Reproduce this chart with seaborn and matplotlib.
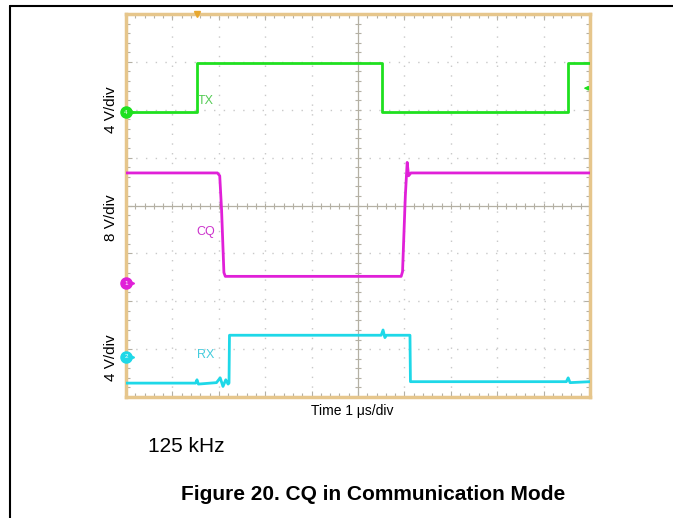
import numpy as np
import pandas as pd
import matplotlib
matplotlib.use("Agg")
import matplotlib.pyplot as plt
from matplotlib.lines import Line2D
import seaborn as sns

# time in divisions (1 us/div), level in vertical divisions from the bottom of the screen
tx_t = [0.0, 1.53, 1.53, 5.52, 5.52, 9.53, 9.53, 10.0]
tx_v = [5.95, 5.95, 6.97, 6.97, 5.95, 5.95, 6.97, 6.97]

cq_t = [0.0, 1.97, 2.02, 2.06, 2.11, 2.14, 5.93, 5.96, 6.02, 6.06, 6.09, 6.14, 10.0]
cq_v = [4.68, 4.68, 4.62, 3.9, 2.6, 2.52, 2.52, 2.62, 4.2, 4.9, 4.62, 4.68, 4.68]

rx_t = [0.0, 1.50, 1.53, 1.56, 1.95, 2.03, 2.09, 2.15, 2.20, 2.22, 2.23, 5.50, 5.54, 5.58, 5.61,
        6.12, 6.13, 9.49, 9.53, 9.57, 10.0]
rx_v = [0.29, 0.29, 0.36, 0.27, 0.30, 0.40, 0.22, 0.36, 0.27, 0.29, 1.29, 1.29, 1.40, 1.24, 1.29,
        1.29, 0.32, 0.32, 0.40, 0.30, 0.32]

signals = ["TX", "CQ", "RX"]
colors = ["#1fe01f", "#e020d8", "#1ed8e8"]
label_colors = ["#55cc55", "#cc33cc", "#44ccdd"]
label_x = [1.72, 1.72, 1.72]
label_y = [6.18, 3.44, 0.87]
ref_levels = [5.95, 2.38, 0.84]
ref_ids = ["4", "1", "2"]
scale_labels = ["4 V/div", "8 V/div", "4 V/div"]
scale_y = [6.0, 3.75, 0.82]
trig_time = 1.53
trig_level = 6.45

df = pd.concat([
    pd.DataFrame({"t": tx_t, "v": tx_v, "signal": "TX"}),
    pd.DataFrame({"t": cq_t, "v": cq_v, "signal": "CQ"}),
    pd.DataFrame({"t": rx_t, "v": rx_v, "signal": "RX"}),
], ignore_index=True)

sns.set_style("white")
plt.rcParams["font.family"] = ["Liberation Sans", "DejaVu Sans"]
plt.rcParams["text.color"] = "black"

fig = plt.figure(figsize=(6.73, 5.18), dpi=100)
ax = fig.add_axes([126 / 673, 1 - 397 / 518, 464 / 673, 383 / 518])
ax.set_xlim(0, 10)
ax.set_ylim(0, 8)

# scope graticule
for x in range(1, 10):
    if x != 5:
        ax.axvline(x, color="#c8c8c8", lw=1.0, ls=(0, (1, 6)), zorder=0)
for y in range(1, 8):
    if y != 4:
        ax.axhline(y, color="#c8c8c8", lw=1.0, ls=(0, (1, 6)), zorder=0)
ax.axhline(4, color="#b4b0a4", lw=0.9, zorder=0)
ax.axvline(5, color="#b4b0a4", lw=0.9, zorder=0)
minor = np.arange(0, 10.01, 0.2)
ax.scatter(minor, np.full(minor.size, 4.0), marker="|", s=16, color="#b4b0a4", lw=0.8, zorder=0)
minor_y = np.arange(0, 8.01, 0.2)
ax.scatter(np.full(minor_y.size, 5.0), minor_y, marker="_", s=16, color="#b4b0a4", lw=0.8, zorder=0)

sns.lineplot(data=df, x="t", y="v", hue="signal", hue_order=signals,
             palette=dict(zip(signals, colors)), sort=False, estimator=None,
             legend=False, linewidth=2.0, ax=ax, zorder=3)

for s, c, x, y in zip(signals, label_colors, label_x, label_y):
    ax.text(x, y, s, color=c, fontsize=9, fontstretch="condensed", ha="center", va="center")

# channel reference markers on the left edge
for lvl, c, n in zip(ref_levels, colors, ref_ids):
    ax.plot([0], [lvl], marker="o", ms=8, color=c, clip_on=False, zorder=5)
    ax.plot([0.12], [lvl], marker=">", ms=3, color=c, clip_on=False, zorder=5)
    ax.text(0, lvl, n, color="white", fontsize=4.5, ha="center", va="center", zorder=6)

# trigger markers
ax.annotate("", xy=(9.8, trig_level), xytext=(10.0, trig_level),
            arrowprops=dict(arrowstyle="-|>", color=colors[0], lw=1.0, mutation_scale=6))
ax.plot([trig_time], [8.0], marker="v", ms=5, color="#e8a830", clip_on=False, zorder=5)

ax.set_xticks(range(0, 11))
ax.set_yticks(range(0, 9))
ax.set_xticks(minor, minor=True)
ax.set_yticks(minor_y, minor=True)
ax.tick_params(which="both", direction="in", top=True, right=True, bottom=True, left=True,
               labelbottom=False, labelleft=False, color="#b4b0a4", width=0.8)
ax.tick_params(which="major", length=4)
ax.tick_params(which="minor", length=3)
ax.set_xlabel("")
ax.set_ylabel("")
for sp in ax.spines.values():
    sp.set_color("#e6c68c")
    sp.set_linewidth(2.5)

for lab, y in zip(scale_labels, scale_y):
    fig.text(111 / 673, 1 - (397 - y * 383 / 8) / 518, lab, rotation=90,
             fontsize=11, ha="center", va="center")

fig.text(352 / 673, 1 - 411 / 518, "Time 1 \u03bcs/div", fontsize=10, ha="center", va="center")
fig.text(148 / 673, 1 - 446 / 518, "125 kHz", fontsize=15, ha="left", va="center")
fig.text(373 / 673, 1 - 494 / 518, "Figure 20. CQ in Communication Mode", fontsize=15,
         fontweight="bold", ha="center", va="center")

# page frame (left and top rules)
fig.add_artist(Line2D([10 / 673, 10 / 673], [0, 1 - 6 / 518], color="black", lw=1.5))
fig.add_artist(Line2D([10 / 673, 1], [1 - 6 / 518, 1 - 6 / 518], color="black", lw=1.5))

fig.savefig("out.png", dpi=100)
